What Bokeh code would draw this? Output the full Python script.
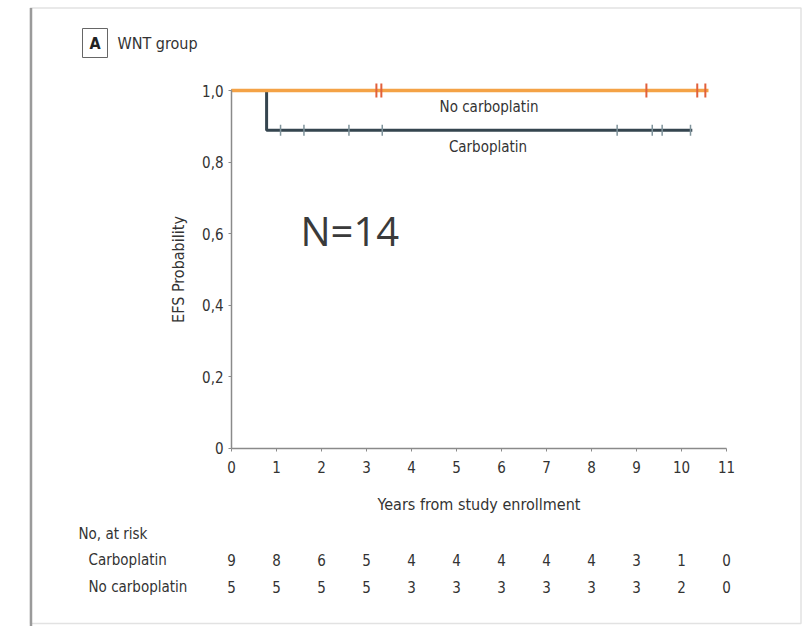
import math
from bokeh.plotting import figure
from bokeh.models import LinearAxis, FixedTicker, Range1d
from bokeh.core.properties import value
from bokeh.embed import file_html
from bokeh.resources import INLINE

# ---------------- data ----------------
years = [0, 1, 2, 3, 4, 5, 6, 7, 8, 9, 10, 11]
year_labels = ["0", "1", "2", "3", "4", "5", "6", "7", "8", "9", "10", "11"]
y_ticks = [0, 0.2, 0.4, 0.6, 0.8, 1.0]
y_tick_labels = ["0", "0,2", "0,4", "0,6", "0,8", "1,0"]

carbo_times = [0, 0.78, 10.24]
carbo_surv = [1.0, 0.889, 0.889]
carbo_censor_t = [1.09, 1.61, 2.61, 3.35, 8.57, 9.35, 9.57, 10.2]
carbo_censor_s = [0.889] * 8

nocarbo_times = [0, 10.6]
nocarbo_surv = [1.0, 1.0]
nocarbo_censor_t = [3.22, 3.33, 9.22, 10.35, 10.53]
nocarbo_censor_s = [1.0] * 5

risk_carbo = [9, 8, 6, 5, 4, 4, 4, 4, 4, 3, 1, 0]
risk_nocarbo = [5, 5, 5, 5, 3, 3, 3, 3, 3, 3, 2, 0]

# ---------------- layout helpers (pixel -> data) ----------------
W, H = 802, 626
X0, SX = 231.0, 45.0
Y0, SY = 447.5, 357.5
def dx(px):
    return (px - X0) / SX
def dy(py):
    return (Y0 - py) / SY

FONT = value("DejaVu Sans Condensed")
TXT = "#333333"
ORANGE = "#F4A246"
ORANGE_C = "#E2603A"
SLATE = "#35454F"
SLATE_C = "#7F939B"

p = figure(width=W, height=H, output_backend="svg", toolbar_location=None,
           x_range=Range1d(dx(0), dx(W)), y_range=Range1d(dy(H), dy(0)),
           x_axis_location=None, y_axis_location=None, min_border=0)
p.outline_line_color = None
p.xgrid.grid_line_color = None
p.ygrid.grid_line_color = None
p.background_fill_color = "white"
p.border_fill_color = "white"

# page border
p.quad(left=dx(30), right=dx(800.5), top=dy(7.5), bottom=dy(623), fill_color=None,
       line_color="#e2e2e2", line_width=1.5)
p.segment(x0=dx(30.5), x1=dx(30.5), y0=dy(7.5), y1=dy(626), line_color="#9a9a9a", line_width=2.5)

# axes
xaxis = LinearAxis(fixed_location=0, bounds=(0, 11), ticker=FixedTicker(ticks=years),
                   major_label_overrides={y: l for y, l in zip(years, year_labels)},
                   axis_label="Years from study enrollment")
yaxis = LinearAxis(fixed_location=0, bounds=(0, 1), ticker=FixedTicker(ticks=y_ticks),
                   major_label_overrides={y: l for y, l in zip(y_ticks, y_tick_labels)},
                   axis_label="EFS Probability")
for ax in (xaxis, yaxis):
    ax.axis_line_color = "#8a8a8a"
    ax.axis_line_width = 1.5
    ax.major_tick_line_color = "#8a8a8a"
    ax.major_tick_out = 3
    ax.major_tick_in = 0
    ax.minor_tick_out = 0
    ax.minor_tick_in = 0
    ax.major_label_text_font = "DejaVu Sans Condensed"
    ax.major_label_text_font_size = "15px"
    ax.major_label_text_color = TXT
    ax.axis_label_text_font = "DejaVu Sans Condensed"
    ax.axis_label_text_font_size = "16px"
    ax.axis_label_text_font_style = "normal"
    ax.axis_label_text_color = TXT
xaxis.major_label_standoff = 10
xaxis.axis_label_standoff = 18
yaxis.major_label_standoff = 5
yaxis.axis_label_standoff = 11
p.add_layout(xaxis, "below")
p.add_layout(yaxis, "left")

# curves
p.step(x=carbo_times, y=carbo_surv, mode="after", line_color=SLATE, line_width=3)
p.scatter(x=carbo_censor_t, y=carbo_censor_s, marker="dash", angle=math.pi / 2, size=11,
          line_color=SLATE_C, line_width=1.5)
p.step(x=nocarbo_times, y=nocarbo_surv, mode="after", line_color=ORANGE, line_width=3.5)
p.scatter(x=nocarbo_censor_t, y=nocarbo_censor_s, marker="dash", angle=math.pi / 2, size=14,
          line_color=ORANGE_C, line_width=2)

# curve labels
p.text(x=[dx(488.5)], y=[dy(106.5)], text=["No carboplatin"], text_font=FONT,
       text_font_size="15px", text_color=TXT, text_align="center", text_baseline="middle")
p.text(x=[dx(487.5)], y=[dy(146.5)], text=["Carboplatin"], text_font=FONT,
       text_font_size="15px", text_color=TXT, text_align="center", text_baseline="middle")

# N=14
p.text(x=[dx(300)], y=[dy(230)], text=["N=14"], text_font=value("Open Sans"),
       text_font_size="40px", text_color="#3a3a3a", text_align="left", text_baseline="middle")

# panel title
p.quad(left=dx(82), right=dx(107), top=dy(28), bottom=dy(57), fill_color=None,
       line_color="#666666", line_width=1)
p.text(x=[dx(94.5)], y=[dy(43)], text=["A"], text_font=FONT, text_font_size="16px",
       text_font_style="bold", text_color="#222222", text_align="center", text_baseline="middle")
p.text(x=[dx(117)], y=[dy(43)], text=["WNT group"], text_font=FONT, text_font_size="16px",
       text_color=TXT, text_align="left", text_baseline="middle")

# number at risk table
p.text(x=[dx(78)], y=[dy(533)], text=["No, at risk"], text_font=FONT, text_font_size="15px",
       text_color=TXT, text_align="left", text_baseline="middle")
p.text(x=[dx(88)], y=[dy(559)], text=["Carboplatin"], text_font=FONT, text_font_size="15px",
       text_color=TXT, text_align="left", text_baseline="middle")
p.text(x=[dx(88)], y=[dy(586)], text=["No carboplatin"], text_font=FONT, text_font_size="15px",
       text_color=TXT, text_align="left", text_baseline="middle")
p.text(x=years, y=[dy(559)] * len(years), text=[str(v) for v in risk_carbo], text_font=FONT,
       text_font_size="15px", text_color=TXT, text_align="center", text_baseline="middle")
p.text(x=years, y=[dy(586)] * len(years), text=[str(v) for v in risk_nocarbo], text_font=FONT,
       text_font_size="15px", text_color=TXT, text_align="center", text_baseline="middle")

open("out.html", "w").write(file_html(p, INLINE))
